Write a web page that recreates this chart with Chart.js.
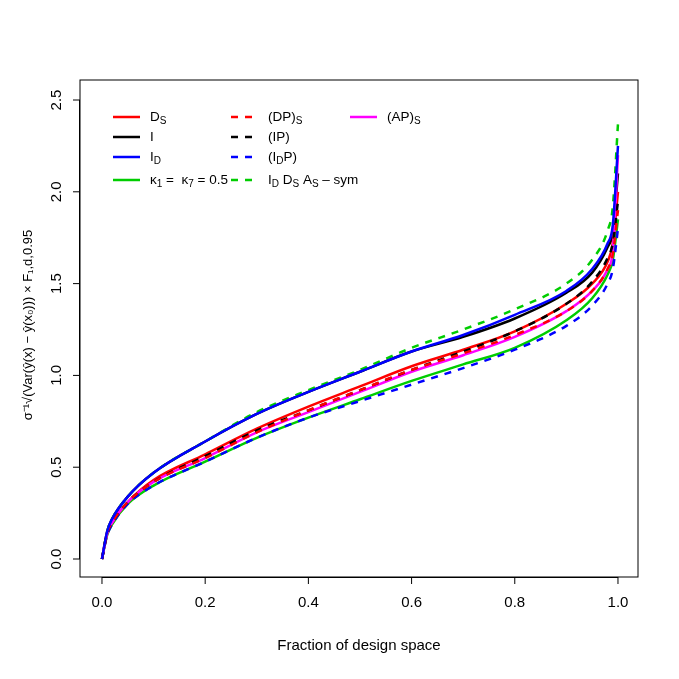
<!DOCTYPE html><html><head><script src="https://cdn.jsdelivr.net/npm/chart.js"></script>
<style>body{margin:0;background:#fff}</style></head><body>
<canvas id="c" width="679" height="679"></canvas>
<script>
const fraction=[0,0.01,0.02,0.05,0.1,0.2,0.3,0.4,0.5,0.6,0.7,0.8,0.9,0.95,0.98,0.99,1.0];
const DS   =[0,0.14,0.2,0.31,0.43,0.57,0.71,0.83,0.94,1.05,1.14,1.24,1.39,1.5,1.62,1.72,2.0];
const I    =[0,0.15,0.22,0.34,0.47,0.64,0.79,0.91,1.02,1.13,1.21,1.31,1.45,1.56,1.7,1.78,2.1];
const ID   =[0,0.15,0.22,0.34,0.47,0.64,0.79,0.91,1.02,1.13,1.22,1.33,1.46,1.58,1.72,1.82,2.25];
const K05  =[0,0.13,0.19,0.3,0.4,0.53,0.66,0.77,0.87,0.97,1.06,1.15,1.3,1.42,1.55,1.63,1.85];
const DPS  =[0,0.14,0.2,0.31,0.42,0.55,0.69,0.81,0.92,1.03,1.12,1.22,1.35,1.46,1.58,1.66,1.9];
const IP   =[0,0.14,0.2,0.31,0.42,0.56,0.7,0.81,0.92,1.03,1.13,1.24,1.39,1.51,1.64,1.72,1.95];
const IDP  =[0,0.13,0.19,0.3,0.4,0.53,0.66,0.77,0.86,0.95,1.04,1.14,1.27,1.38,1.5,1.58,1.8];
const SYM  =[0,0.15,0.22,0.34,0.47,0.64,0.8,0.92,1.03,1.15,1.25,1.36,1.5,1.63,1.79,1.92,2.37];
const APS  =[0,0.14,0.2,0.31,0.42,0.55,0.69,0.8,0.91,1.02,1.11,1.21,1.35,1.46,1.58,1.68,2.2];
const xTicks=[0,0.2,0.4,0.6,0.8,1.0], yTicks=[0,0.5,1,1.5,2,2.5];
const series=[
 {d:DS,c:'#ff0000',dash:[],o:2,lab:[['D',''],['S','sub']]},
 {d:I,c:'#000000',dash:[],o:3,lab:[['I','']]},
 {d:ID,c:'#0000ff',dash:[],o:0,lab:[['I',''],['D','sub']]},
 {d:K05,c:'#00cd00',dash:[],o:2,lab:[['κ',''],['1','sub'],[' =  κ',''],['7','sub'],[' = 0.5','']]},
 {d:DPS,c:'#ff0000',dash:[7,7],o:1,lab:[['(DP)',''],['S','sub']]},
 {d:IP,c:'#000000',dash:[7,7],o:1,lab:[['(IP)','']]},
 {d:IDP,c:'#0000ff',dash:[7,7],o:1,lab:[['(I',''],['D','sub'],['P)','']]},
 {d:SYM,c:'#00cd00',dash:[7,7],o:1,lab:[['I',''],['D','sub'],[' D',''],['S','sub'],[' A',''],['S','sub'],[' – sym','']]},
 {d:APS,c:'#ff00ff',dash:[],o:1,lab:[['(AP)',''],['S','sub']]}
];
const F='Liberation Sans, Arial, sans-serif';
const deco={id:'deco',afterDraw(ch){
 const x=ch.scales.x,y=ch.scales.y,a=ch.chartArea,g=ch.ctx;g.save();
 g.strokeStyle='#000';g.lineWidth=1;g.strokeRect(a.left,a.top,a.right-a.left,a.bottom-a.top);
 g.fillStyle='#000';g.font='15px '+F;g.textAlign='center';g.textBaseline='top';
 g.beginPath();g.moveTo(x.getPixelForValue(0),a.bottom+0.5);g.lineTo(x.getPixelForValue(1),a.bottom+0.5);
 xTicks.forEach(v=>{const p=x.getPixelForValue(v);g.moveTo(p,a.bottom);g.lineTo(p,a.bottom+7);g.fillText(v.toFixed(1),p,a.bottom+18);});
 g.moveTo(a.left-0.5,y.getPixelForValue(0));g.lineTo(a.left-0.5,y.getPixelForValue(2.5));
 yTicks.forEach(v=>{const p=y.getPixelForValue(v);g.moveTo(a.left,p);g.lineTo(a.left-7,p);
  g.save();g.translate(a.left-16,p);g.rotate(-Math.PI/2);g.textBaseline='bottom';g.fillText(v.toFixed(1),0,0);g.restore();});
 g.stroke();
 g.fillText('Fraction of design space',(a.left+a.right)/2,a.bottom+61);
 g.save();g.translate(28,325);g.rotate(-Math.PI/2);g.textAlign='center';g.textBaseline='middle';g.font='13px '+F;
 g.fillText('σ⁻¹√(Var(ŷ(x) − ŷ(x₀))) × F₁,d,0.95',0,0);g.restore();
 const cols=[113,231,350],rows=[117,137,157,180];
 series.forEach((s,i)=>{const cx=cols[Math.floor(i/4)],cy=rows[i%4];
  g.strokeStyle=s.c;g.lineWidth=2.5;g.setLineDash(s.dash);g.beginPath();g.moveTo(cx,cy);g.lineTo(cx+27,cy);g.stroke();g.setLineDash([]);
  let tx=cx+37;g.textAlign='left';g.textBaseline='middle';
  s.lab.forEach(([t,k])=>{g.font=(k?'10px ':'13.5px ')+F;g.fillText(t,tx,k?cy+4:cy);tx+=g.measureText(t).width;});
 });
 g.restore();}};
new Chart(document.getElementById('c'),{type:'line',
 data:{labels:fraction,datasets:series.map(s=>({data:s.d.map((v,i)=>({x:fraction[i],y:v})),order:s.o,borderColor:s.c,borderDash:s.dash,borderWidth:2.5,pointRadius:0,cubicInterpolationMode:'monotone',fill:false}))},
 options:{responsive:false,animation:false,layout:{padding:{left:80,right:41,top:80,bottom:102}},
  plugins:{legend:{display:false},tooltip:{enabled:false}},
  scales:{x:{type:'linear',display:false,min:-0.0426,max:1.0388},y:{display:false,min:-0.098,max:2.609}}},
 plugins:[deco]});
</script></body></html>
